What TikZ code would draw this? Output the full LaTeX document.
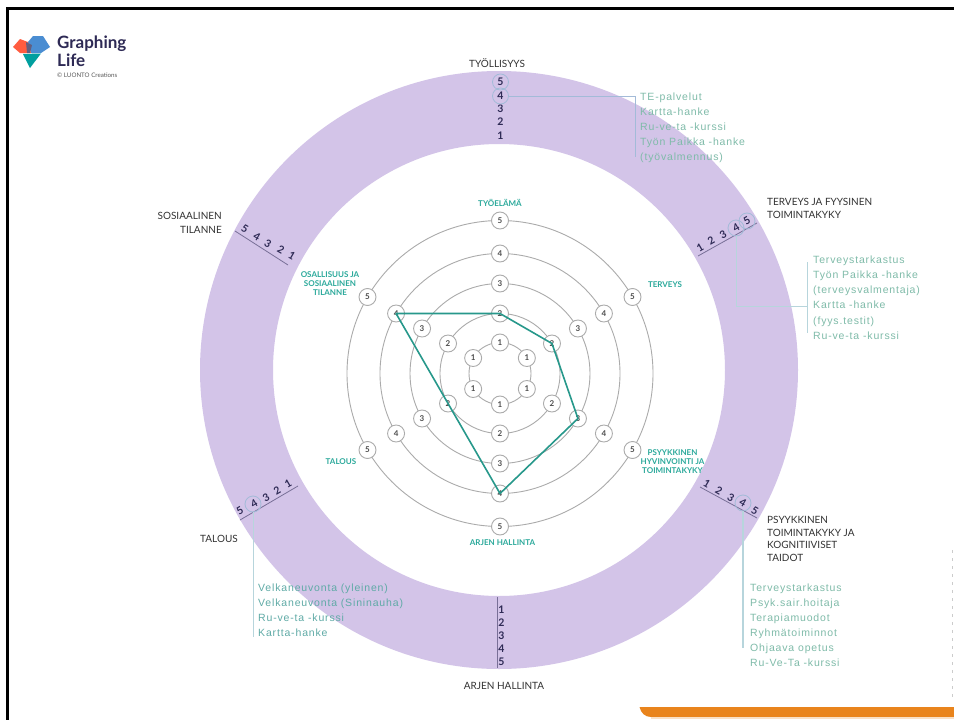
\documentclass[tikz,border=0pt]{standalone}
\usepackage{fontspec}
\setmainfont{Lato}
\newfontfamily\listfont[LetterSpace=8]{Liberation Sans}
\usetikzlibrary{calc}
\definecolor{ringc}{HTML}{D3C4E8}
\definecolor{tealc}{HTML}{2BA99B}
\definecolor{leadc}{HTML}{B7D5DC}
\definecolor{pickc}{HTML}{A3BBD8}
\definecolor{listc}{HTML}{7FBBA9}
\definecolor{listd}{HTML}{5FAAA6}
\definecolor{inkc}{HTML}{2E2A55}
\definecolor{grayc}{HTML}{ABABAB}
\definecolor{orangec}{HTML}{E9841C}
\tikzset{
  x=1pt,y=-1pt,
  webring/.style={draw=grayc,line width=0.9pt},
  lev/.style={circle,draw=grayc,fill=white,line width=0.9pt,minimum size=17pt,inner sep=0pt,font=\fontsize{8}{8}\selectfont\bfseries,text=black!70},
  axisnum/.style={inner sep=0pt,font=\fontsize{10.5}{11}\selectfont\bfseries,text=inkc},
  pick/.style={circle,draw=pickc,line width=0.8pt,minimum size=16pt,inner sep=0pt},
  axisline/.style={draw=inkc!55!ringc,line width=0.8pt},
  leader/.style={draw=leadc,line width=0.9pt},
  leadertop/.style={draw=pickc,line width=0.8pt},
  poly/.style={draw=tealc!90!black,line width=1.6pt,line join=round},
  head/.style={inner sep=0pt,align=left,font=\fontsize{10}{13}\selectfont,text=black!80},
  innerlab/.style={inner sep=0pt,align=center,font=\fontsize{8}{9}\selectfont\bfseries,text=tealc},
  items/.style={inner sep=0pt,align=left,anchor=north west,font=\listfont\fontsize{10.5}{15}\selectfont,text=listc},
}
\begin{document}
\begin{tikzpicture}
\useasboundingbox (0,0) rectangle (954,720);
\fill[white] (0,0) rectangle (954,720);
\draw[black,line width=3pt] (7.5,720) -- (7.5,8.2) -- (954,8.2);
% ring
\fill[ringc,even odd rule] (499,370) circle[radius=299] (499,370) circle[radius=226];
% web
\coordinate (c) at (500,373.5);
\foreach \r in {31,60,90,120,153} \draw[webring] (c) circle[radius=\r];
\foreach \a/\n in {90/a,30/b,-30/c,-90/d,210/e,150/f}{
  \node[lev] (\n1) at ($(c)+({31*cos(\a)},{-31*sin(\a)})$) {1};
  \node[lev] (\n2) at ($(c)+({60*cos(\a)},{-60*sin(\a)})$) {2};
  \node[lev] (\n3) at ($(c)+({90*cos(\a)},{-90*sin(\a)})$) {3};
  \node[lev] (\n4) at ($(c)+({120*cos(\a)},{-120*sin(\a)})$) {4};
  \node[lev] (\n5) at ($(c)+({153*cos(\a)},{-153*sin(\a)})$) {5};
}
\draw[poly] (a2.center) -- (b2.center) -- (c3.center) -- (d4.center) -- (e2.center) -- (f4.center) -- cycle;
% inner labels
\node[innerlab] at (500,203) {TYÖELÄMÄ};
\node[innerlab] at (665,285) {TERVEYS};
\node[innerlab] at (672.5,462) {PSYYKKINEN\\HYVINVOINTI JA\\TOIMINTAKYKY};
\node[innerlab] at (502.5,543) {ARJEN HALLINTA};
\node[innerlab] at (341,462) {TALOUS};
\node[innerlab] at (330,283.5) {OSALLISUUS JA\\SOSIAALINEN\\TILANNE};
% axis: top
\foreach \i/\y in {5/82,4/96,3/108.5,2/122,1/136}{\node[axisnum] (t\i) at (500.5,\y) {\i};}
\node[pick] (tp5) at (500.5,82) {};
\node[pick] (tp4) at (500.5,96) {};
% axis: bottom
\coordinate (za) at (497,597); \coordinate (zb) at (497,668);
\draw[axisline] (za) -- (zb);
\foreach \i/\y in {1/610,2/623,3/636,4/649,5/662}{\node[axisnum] (z\i) at (501.5,\y) {\i};}
% radial axes
\coordinate (ra1) at (698,256); \coordinate (ra2) at (757,223);
\draw[axisline] (ra1) -- (ra2);
\foreach \i/\x/\y in {1/700/248,2/711/241,3/723/235,4/736/228,5/747/221}{\node[axisnum,rotate=30] (q\i) at (\x,\y) {\i};}
\node[pick] (qp4) at (736,228) {};
\node[pick] (qp5) at (747,221) {};
\coordinate (rb1) at (700,487); \coordinate (rb2) at (757,518);
\draw[axisline] (rb1) -- (rb2);
\foreach \i/\x/\y in {1/707/484,2/719/491,3/731/498,4/743/503,5/755/511}{\node[axisnum,rotate=-30] (p\i) at (\x,\y) {\i};}
\node[pick] (pp4) at (743,503) {};
\coordinate (rc1) at (240,520); \coordinate (rc2) at (298,486);
\draw[axisline] (rc1) -- (rc2);
\foreach \i/\x/\y in {5/240/511,4/254/504,3/266/498,2/277/491,1/288/484}{\node[axisnum,rotate=30] (l\i) at (\x,\y) {\i};}
\node[pick] (lp4) at (253,504) {};
\coordinate (rd1) at (235,231); \coordinate (rd2) at (288,265);
\draw[axisline] (rd1) -- (rd2);
\foreach \i/\x/\y in {5/245/229,4/257/237,3/268/244,2/281/250,1/292/256}{\node[axisnum,rotate=-30] (s\i) at (\x,\y) {\i};}
% leaders
\coordinate (l1a) at (635,96); \coordinate (l1b) at (635,157);
\draw[leadertop] (tp4.east) -- (l1a) -- (l1b);
\coordinate (l2a) at (736,306); \coordinate (l2b) at (807,306); \coordinate (l2c) at (807,262); \coordinate (l2d) at (807,333);
\draw[leader] (qp4.south) -- (l2a) -- (l2b);
\draw[leader] (l2c) -- (l2d);
\coordinate (l3a) at (743,648);
\draw[leader,line width=1.4pt] (pp4.south) -- (l3a);
\coordinate (l4a) at (253,637);
\draw[leader] (lp4.south) -- (l4a);
% headings
\node[head] at (497,63) {TYÖLLISYYS};
\node[head,anchor=north west] at (767,198.5) {TERVEYS JA FYYSINEN\\TOIMINTAKYKY};
\node[head,anchor=north west,font=\fontsize{10}{12.7}\selectfont] at (767,516) {PSYYKKINEN\\TOIMINTAKYKY JA\\KOGNITIIVISET\\TAIDOT};
\node[head] at (504,686) {ARJEN HALLINTA};
\node[head] at (219,539) {TALOUS};
\node[head,anchor=north east,align=right,font=\fontsize{10}{14}\selectfont] at (222,212) {SOSIAALINEN\\TILANNE};
% lists
\node[items] at (640,92.5) {TE-palvelut\\Kartta-hanke\\Ru-ve-ta -kurssi\\Työn Paikka -hanke\\(työvalmennus)};
\node[items,font=\listfont\fontsize{10.5}{15.2}\selectfont] at (813,255.5) {Terveystarkastus\\Työn Paikka -hanke\\(terveysvalmentaja)\\Kartta -hanke\\(fyys.testit)\\Ru-ve-ta -kurssi};
\node[items] at (750,583.5) {Terveystarkastus\\Psyk.sair.hoitaja\\Terapiamuodot\\Ryhmätoiminnot\\Ohjaava opetus\\Ru-Ve-Ta -kurssi};
\node[items,text=listd] at (258,583.5) {Velkaneuvonta (yleinen)\\Velkaneuvonta (Sininauha)\\Ru-ve-ta -kurssi\\Kartta-hanke};
% logo
\fill[cyan!55!blue!75] (28,42) -- (33,36) -- (43,36) -- (50,47) -- (41,53) -- (31,53) -- cycle;
\fill[red!70!orange!75] (13,47) -- (20,39) -- (28,42) -- (31,53) -- (20,53) -- cycle;
\fill[teal!75!cyan] (23,54) -- (41,53.5) -- (30,68) -- cycle;
\fill[inkc!75] (26,42) -- (32,45) -- (30,53) -- (27,53) -- cycle;
\node[inner sep=0pt,anchor=north west,align=left,text=inkc,font=\fontsize{17}{18.5}\selectfont\bfseries] at (57,35.5) {Graphing\\Life};
\node[inner sep=0pt,anchor=west,text=black!65,font=\fontsize{6.2}{7}\selectfont] at (57,75) {© LUONTO Creations};
% orange bar and faint edge marks
\fill[orangec] (639.5,707) .. controls (641,713) and (645,717) .. (651,717) -- (954,717) -- (954,707) -- cycle;
\fill[orangec!25] (651,717) rectangle (954,719);
\draw[black!20,line width=1pt,dash pattern=on 3pt off 5pt] (952.5,550) -- (952.5,700);
\end{tikzpicture}
\end{document}
